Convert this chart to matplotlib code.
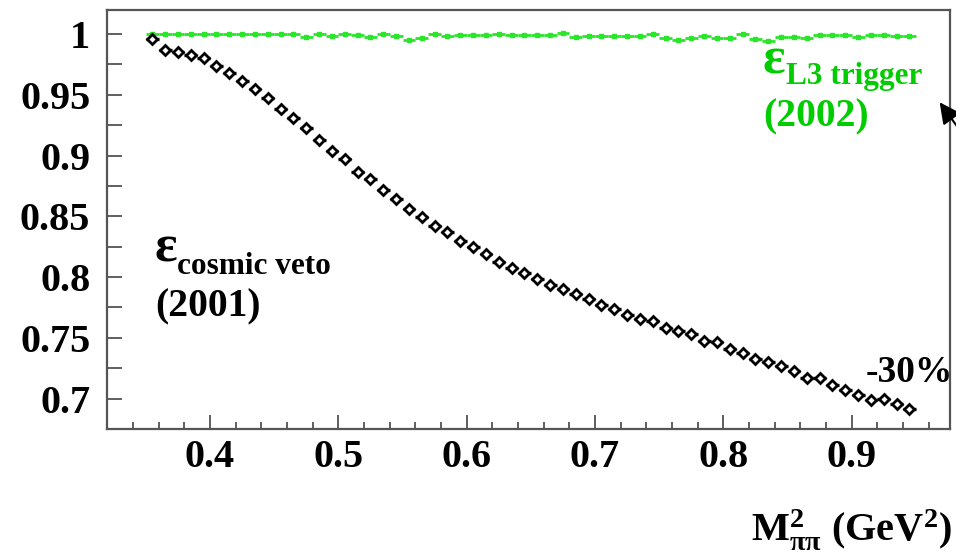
import matplotlib
matplotlib.use("Agg")
import matplotlib.pyplot as plt
import numpy as np

# bins of M_pipi^2 (GeV^2), 0.01 wide from 0.35 to 0.95
bin_width = 0.01
m2 = np.round(np.arange(0.35, 0.95, bin_width) + bin_width / 2, 3)

eff_cosmic = [0.996, 0.987, 0.985, 0.983, 0.980, 0.974, 0.968, 0.961, 0.955, 0.947,
              0.9385, 0.931, 0.923, 0.913, 0.9036, 0.8968, 0.8866, 0.8806, 0.8715, 0.864,
              0.856, 0.849, 0.8424, 0.8367, 0.8297, 0.8245, 0.8193, 0.8122, 0.8078, 0.8034,
              0.798, 0.7938, 0.7902, 0.7858, 0.7817, 0.7768, 0.7737, 0.7691, 0.7652, 0.7642,
              0.7578, 0.7553, 0.7529, 0.7474, 0.7469, 0.7405, 0.7378, 0.7325, 0.7298, 0.7268,
              0.723, 0.7169, 0.7169, 0.7109, 0.7073, 0.7032, 0.699, 0.6996, 0.6958, 0.6913]

eff_l3 = [1.0, 1.0, 1.0, 1.0, 1.0, 1.0, 1.0, 1.0, 1.0, 1.0,
          1.0, 1.0, 0.9978, 1.0, 0.998, 1.0, 0.9992, 0.9978, 1.0, 0.9986,
          0.995, 0.997, 1.0, 0.9986, 0.9992, 0.9994, 0.9994, 1.0, 0.9994, 0.9994,
          0.9992, 0.9992, 1.0005, 0.9978, 0.9984, 0.9984, 0.9984, 0.9984, 0.9986, 1.0003,
          0.997, 0.995, 0.9964, 0.998, 0.997, 0.997, 1.0003, 0.9958, 0.9945, 0.9978,
          0.9978, 0.9964, 0.9992, 0.9992, 0.9992, 0.9978, 0.9992, 0.9992, 0.9986, 0.9986]

xticks = [0.4, 0.5, 0.6, 0.7, 0.8, 0.9]
yticks = [0.7, 0.75, 0.8, 0.85, 0.9, 0.95, 1.0]
ytick_labels = ["0.7", "0.75", "0.8", "0.85", "0.9", "0.95", "1"]

W, H = 956, 557
serif = ["Liberation Serif", "DejaVu Serif"]
plt.rcParams["font.family"] = serif
plt.rcParams["font.weight"] = "bold"
plt.rcParams["mathtext.fontset"] = "custom"
plt.rcParams["mathtext.rm"] = "Liberation Serif:bold"
plt.rcParams["mathtext.it"] = "Liberation Serif:bold"
plt.rcParams["mathtext.bf"] = "Liberation Serif:bold"
plt.rcParams["mathtext.default"] = "rm"

fig = plt.figure(figsize=(W / 100, H / 100), dpi=100)
ax = fig.add_axes([107 / W, 1 - 429 / H, (950 - 107) / W, (429 - 10) / H])

green = "#2ae62a"
ax.errorbar(m2, eff_l3, xerr=bin_width / 2, fmt="s", ms=2.5, color=green,
            ecolor=green, elinewidth=2, capsize=0, zorder=3)
ax.errorbar(m2, eff_cosmic, xerr=bin_width / 2, fmt="D", ms=4.8, mfc="white",
            mec="black", mew=2, ecolor="black", elinewidth=2.4, capsize=0, zorder=4)

ax.set_xlim(0.3197, 0.9766)
ax.set_ylim(0.675, 1.0197)

ax.set_xticks(xticks)
ax.set_xticklabels([str(v) for v in xticks])
ax.set_xticks(np.arange(0.32, 0.98, 0.02), minor=True)
ax.set_yticks(yticks)
ax.set_yticklabels(ytick_labels)
ax.set_yticks(np.arange(0.675, 1.02, 0.025), minor=True)

for s in ax.spines.values():
    s.set_color("#555555")
    s.set_linewidth(1.6)
ax.tick_params(axis="both", which="both", direction="in", color="#444444", width=1.2,
               labelsize=29)
ax.tick_params(axis="y", which="both", length=11, pad=12)
ax.tick_params(axis="x", which="major", length=10, pad=7)
ax.tick_params(axis="x", which="minor", length=5)
ax.tick_params(top=False, right=False, which="both")
for lab in ax.get_xticklabels() + ax.get_yticklabels():
    lab.set_fontweight("bold")


def put(x, y, s, size, color="black", ha="left"):
    fig.text(x / W, 1 - y / H, s, fontsize=size, color=color, fontweight="bold",
             ha=ha, va="baseline", family=serif)


text_green = "#00cc00"
put(762, 73, "ε", 38, text_green)
put(786, 84, "L3 trigger", 22.5, text_green)
put(763, 126, "(2002)", 28.5, text_green)

put(154, 262, "ε", 38)
put(177, 274, "cosmic veto", 22.5)
put(155, 316, "(2001)", 28.5)

put(866, 382, "-30%", 27)

# x axis title
put(952, 541, r"M$_{\pi\pi}^{2}$ (GeV$^{2}$)", 29, ha="right")

ax.annotate("", xy=(938, H - 100), xytext=(985, H - 165), xycoords="figure pixels",
            textcoords="figure pixels",
            arrowprops=dict(arrowstyle="-|>", color="black", lw=1.5, mutation_scale=32))

fig.savefig("out.png", dpi=100)
